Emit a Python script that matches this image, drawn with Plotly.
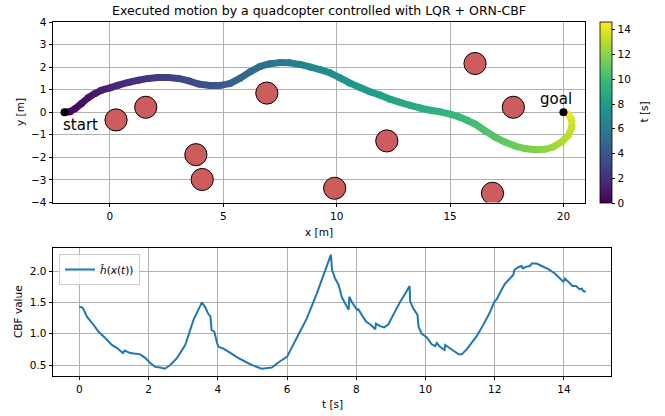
import plotly.graph_objects as go
from plotly.colors import sample_colorscale

# ---------------- data ----------------
traj_x = [-2.0, -1.76, -1.54, -1.25, -0.96, -0.66, -0.37, 0.0, 0.37, 0.81, 1.25, 1.69, 2.13, 2.57, 3.01,
          3.45, 3.90, 4.41, 4.85, 5.29, 5.73, 6.18, 6.62, 7.06, 7.50, 7.94, 8.38, 8.82, 9.26, 9.70,
          10.15, 10.59, 11.03, 11.47, 11.91, 12.35, 12.79, 13.23, 13.67, 14.12, 14.56, 15.0, 15.44,
          15.80, 16.10, 16.54, 16.98, 17.42, 17.87, 18.31, 18.75, 19.19, 19.55, 19.92, 20.22, 20.37,
          20.37, 20.22, 20.07]
traj_y = [0.0, 0.02, 0.16, 0.39, 0.64, 0.83, 0.98, 1.08, 1.20, 1.32, 1.42, 1.50, 1.54, 1.54, 1.50,
          1.40, 1.25, 1.19, 1.19, 1.27, 1.50, 1.79, 2.03, 2.15, 2.20, 2.19, 2.12, 2.01, 1.89, 1.75,
          1.52, 1.29, 1.10, 0.91, 0.76, 0.58, 0.44, 0.31, 0.19, 0.09, 0.02, -0.08, -0.22,
          -0.38, -0.52, -0.82, -1.10, -1.32, -1.50, -1.61, -1.66, -1.64, -1.54, -1.32, -1.02, -0.65,
          -0.36, -0.10, 0.0]
traj_t = [0.0, 0.2, 0.4, 0.6, 0.8, 1.0, 1.2, 1.45, 1.65, 1.9, 2.1, 2.35, 2.55, 2.8, 3.0,
          3.25, 3.55, 3.85, 4.15, 4.45, 4.75, 5.05, 5.35, 5.65, 5.9, 6.15, 6.4, 6.65, 6.9, 7.15,
          7.4, 7.6, 7.8, 8.0, 8.2, 8.4, 8.6, 8.8, 9.0, 9.2, 9.4, 9.6, 9.8,
          10.0, 10.2, 10.45, 10.7, 10.95, 11.2, 11.5, 11.8, 12.1, 12.4, 12.75, 13.1, 13.5,
          13.85, 14.25, 14.63]

obs_x = [0.27, 1.58, 3.79, 4.07, 6.92, 9.91, 12.21, 16.10, 17.79, 16.87]
obs_y = [-0.34, 0.22, -1.88, -2.98, 0.85, -3.37, -1.27, 2.16, 0.22, -3.59]
obs_r = 0.49

start_xy = (-2.0, 0.0)
goal_xy = (20.0, 0.0)

cbf_t = [0.00, 0.08, 0.11, 0.22, 0.37, 0.56, 0.75, 0.94, 1.09, 1.26, 1.31, 1.47, 1.76, 1.91, 2.05,
         2.19, 2.34, 2.47, 2.63, 2.82, 3.06, 3.30, 3.54, 3.64, 3.72, 3.79, 3.82, 3.90, 3.98, 4.02,
         4.17, 4.36, 4.60, 4.84, 5.03, 5.27, 5.56, 5.80, 6.00, 6.28, 6.57, 6.86, 7.05, 7.20, 7.27,
         7.30, 7.39, 7.49, 7.58, 7.68, 7.78, 7.80, 7.87, 8.02, 8.06, 8.16, 8.29, 8.40, 8.55, 8.57,
         8.69, 8.81, 8.93, 9.07, 9.27, 9.44, 9.54, 9.56, 9.65, 9.77, 9.80, 9.89, 10.04, 10.09, 10.18,
         10.28, 10.33, 10.42, 10.55, 10.57, 10.72, 10.83, 10.96, 11.05, 11.19, 11.29, 11.48, 11.67,
         11.87, 11.99, 12.06, 12.20, 12.30, 12.44, 12.54, 12.57, 12.68, 12.78, 12.81, 12.92, 13.02,
         13.07, 13.21, 13.36, 13.55, 13.74, 13.89, 13.98, 14.03, 14.13, 14.25, 14.35, 14.45, 14.51,
         14.56, 14.63]
cbf_v = [1.43, 1.42, 1.40, 1.27, 1.17, 1.03, 0.93, 0.82, 0.77, 0.69, 0.73, 0.69, 0.67, 0.61, 0.53,
         0.47, 0.46, 0.44, 0.50, 0.61, 0.82, 1.22, 1.50, 1.42, 1.32, 1.27, 1.06, 1.03, 0.85, 0.79,
         0.76, 0.69, 0.61, 0.54, 0.49, 0.44, 0.46, 0.56, 0.63, 0.93, 1.24, 1.64, 1.94, 2.17, 2.26,
         2.02, 1.88, 1.78, 1.59, 1.48, 1.38, 1.59, 1.51, 1.38, 1.39, 1.30, 1.19, 1.15, 1.07, 1.16,
         1.12, 1.10, 1.15, 1.30, 1.51, 1.66, 1.76, 1.51, 1.40, 1.30, 1.11, 1.00, 0.94, 0.90, 0.83,
         0.80, 0.85, 0.79, 0.74, 0.82, 0.77, 0.72, 0.67, 0.67, 0.75, 0.82, 0.96, 1.14,
         1.35, 1.51, 1.55, 1.70, 1.80, 1.88, 1.94, 2.02, 2.06, 2.08, 2.04, 2.07, 2.08,
         2.12, 2.12, 2.08, 2.03, 1.96, 1.88, 1.83, 1.88, 1.82, 1.76, 1.76, 1.71, 1.72,
         1.68, 1.67]

xticks_top = [0, 5, 10, 15, 20]
yticks_top = [-4, -3, -2, -1, 0, 1, 2, 3, 4]
cbar_ticks = [0, 2, 4, 6, 8, 10, 12, 14]
xticks_bot = [0, 2, 4, 6, 8, 10, 12, 14]
yticks_bot = [0.5, 1.0, 1.5, 2.0]

# ---------------- figure ----------------
W, H = 665, 416
FONT = "DejaVu Sans"
tmax = max(traj_t)

fig = go.Figure()

# trajectory: colored segments
for i in range(len(traj_x) - 1):
    tm = 0.5 * (traj_t[i] + traj_t[i + 1]) / tmax
    col = sample_colorscale("Viridis", [tm])[0]
    fig.add_trace(go.Scatter(x=[traj_x[i], traj_x[i + 1]], y=[traj_y[i], traj_y[i + 1]],
                             mode="lines", line=dict(color=col, width=7),
                             showlegend=False, hoverinfo="skip", xaxis="x", yaxis="y"))

fig.add_trace(go.Scatter(
    x=traj_x, y=traj_y, mode="markers", showlegend=False, xaxis="x", yaxis="y",
    marker=dict(size=7, color=traj_t, colorscale="Viridis", cmin=0, cmax=tmax,
                line=dict(width=0),
                colorbar=dict(x=600 / W, xanchor="left", thickness=12, thicknessmode="pixels",
                              len=181 / H, lenmode="fraction", y=1 - 112.5 / H, yanchor="middle",
                              xpad=0, ypad=0,
                              tickvals=cbar_ticks, ticks="outside", ticklen=3.5, tickwidth=0.8,
                              tickcolor="black", outlinecolor="black", outlinewidth=0.8,
                              tickfont=dict(family=FONT, size=10.5, color="black"),
                              title=dict(text=""))),
))

# start / goal markers
fig.add_trace(go.Scatter(x=[start_xy[0], goal_xy[0]], y=[start_xy[1], goal_xy[1]], mode="markers",
                         marker=dict(size=8, color="black"), showlegend=False,
                         xaxis="x", yaxis="y"))

# obstacles
for ox, oy in zip(obs_x, obs_y):
    fig.add_shape(type="circle", xref="x", yref="y", x0=ox - obs_r, x1=ox + obs_r,
                  y0=oy - obs_r, y1=oy + obs_r, fillcolor="#cd5c5c",
                  line=dict(color="black", width=1))

# CBF curve
fig.add_trace(go.Scatter(x=cbf_t, y=cbf_v, mode="lines", name="<i>ĥ</i>(<i>x</i>(<i>t</i>))",
                         line=dict(color="#1f77b4", width=2), xaxis="x2", yaxis="y2",
                         showlegend=True))

axis_common = dict(showline=True, mirror=True, linecolor="black", linewidth=0.8,
                   ticks="outside", ticklen=3.5, tickwidth=0.8, tickcolor="black",
                   showgrid=True, gridcolor="#b0b0b0", gridwidth=0.8, zeroline=False,
                   automargin=False,
                   tickfont=dict(family=FONT, size=10.5, color="black"))

def lab(text, x, y, angle=0, size=10.5):
    return dict(text=text, x=x / W, y=1 - y / H, xref="paper", yref="paper", showarrow=False,
                textangle=angle, xanchor="center", yanchor="middle",
                font=dict(family=FONT, size=size, color="black"))

fig.update_layout(
    width=W, height=H, autosize=False,
    margin=dict(l=0, r=0, t=0, b=0, autoexpand=False),
    paper_bgcolor="white", plot_bgcolor="white",
    font=dict(family=FONT, size=10.5, color="black"),
    xaxis=dict(domain=[53 / W, 585 / W], range=[-2.51, 20.95], tickvals=xticks_top,
               anchor="y", **axis_common),
    yaxis=dict(domain=[1 - 202.5 / H, 1 - 22 / H], range=[-4, 4], tickvals=yticks_top,
               anchor="x", **axis_common),
    xaxis2=dict(domain=[53 / W, 611 / W], range=[-0.76, 15.36], tickvals=xticks_bot,
                anchor="y2", **axis_common),
    yaxis2=dict(domain=[1 - 376 / H, 1 - 248 / H], range=[0.3245, 2.367], tickvals=yticks_bot,
                tickformat=".1f", anchor="x2", **axis_common),
    title=dict(text="Executed motion by a quadcopter controlled with LQR + ORN-CBF",
               x=319 / W, xanchor="center", y=1 - 11 / H, yanchor="middle",
               font=dict(family=FONT, size=12.5, color="black")),
    legend=dict(x=59 / W, y=1 - 254 / H, xanchor="left", yanchor="top",
                bgcolor="rgba(255,255,255,0.8)", bordercolor="#cccccc", borderwidth=1,
                font=dict(family=FONT, size=10.5, color="black"), itemwidth=30,
                tracegroupgap=0),
    annotations=[
        dict(text="start", x=-1.28, y=-0.58, xref="x", yref="y", showarrow=False,
             xanchor="center", yanchor="middle", font=dict(family=FONT, size=15, color="black")),
        dict(text="goal", x=19.65, y=0.58, xref="x", yref="y", showarrow=False,
             xanchor="center", yanchor="middle", font=dict(family=FONT, size=15, color="black")),
        lab("t [s]", 643, 112.5, -90),
        lab("x [m]", 319, 231.5),
        lab("y [m]", 20, 112, -90),
        lab("t [s]", 332, 404),
        lab("CBF value", 18, 312, -90),
    ],
)

fig.write_html("out.html", config={"displayModeBar": False},
               post_script="document.body.style.margin='0px';document.body.style.overflow='hidden';")
